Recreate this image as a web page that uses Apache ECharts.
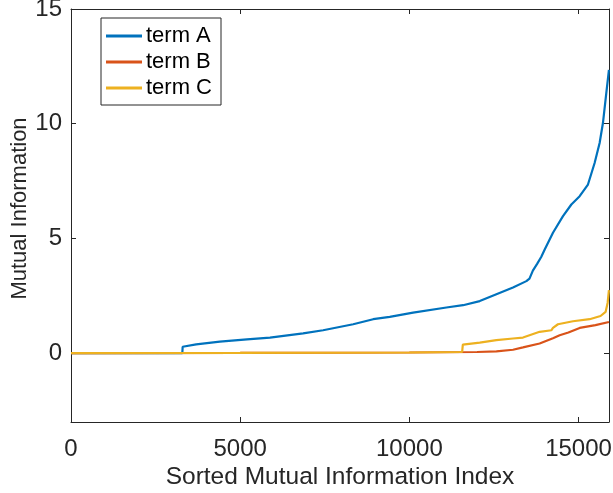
<!DOCTYPE html>
<html>
<head>
<meta charset="utf-8">
<script src="https://cdn.jsdelivr.net/npm/echarts@6/dist/echarts.min.js"></script>
<style>
  html, body { margin: 0; padding: 0; background: #fff; }
  #main { width: 613px; height: 493px; }
</style>
</head>
<body>
<div id="main"></div>
<script>
// term A
var aIdx = [0, 3290, 3300, 3700, 4400, 5200, 5880, 6860, 7450, 8340, 8930, 9420, 10110, 11095, 11587, 12080, 12572, 13063, 13458, 13550, 13650, 13780, 13900, 14000, 14244, 14540, 14787, 15033, 15278, 15475, 15623, 15721, 15820, 15898];
var aVal = [0, 0, 0.28, 0.38, 0.5, 0.6, 0.68, 0.86, 1.0, 1.26, 1.48, 1.58, 1.77, 1.99, 2.09, 2.27, 2.57, 2.86, 3.14, 3.25, 3.6, 3.9, 4.2, 4.52, 5.25, 5.97, 6.48, 6.84, 7.35, 8.29, 9.16, 10.03, 11.33, 12.35];
// term B
var bIdx = [0, 5000, 10000, 12000, 12572, 13063, 13358, 13850, 14244, 14442, 14700, 15033, 15500, 15898];
var bVal = [0, 0.01, 0.03, 0.05, 0.08, 0.15, 0.25, 0.42, 0.65, 0.78, 0.9, 1.1, 1.22, 1.36];
// term C
var cIdx = [0, 5000, 10000, 11560, 11580, 12080, 12572, 13063, 13358, 13850, 14200, 14244, 14392, 14835, 15328, 15650, 15800, 15860, 15898];
var cVal = [0, 0.01, 0.03, 0.05, 0.37, 0.46, 0.57, 0.64, 0.68, 0.93, 1.0, 1.1, 1.26, 1.39, 1.48, 1.62, 1.8, 2.2, 2.75];

var names = ["term A", "term B", "term C"];
var colors = ["#0072BD", "#D95319", "#EDB120"];
var xTicks = [0, 5000, 10000, 15000];
var yTicks = [0, 5, 10, 15];

function pairs(idx, val) {
  return idx.map(function (x, i) { return [x, val[i]]; });
}

var chart = echarts.init(document.getElementById("main"));
var textColor = "#262626";
var axisLine = { show: true, onZero: false, lineStyle: { color: textColor, width: 1 } };

var option = {
  animation: false,
  grid: { left: 71, right: 4, top: 9, bottom: 71, outerBoundsMode: "none" },
  legend: {
    data: names,
    orient: "vertical",
    left: 101,
    top: 18,
    icon: "rect",
    itemWidth: 36,
    itemHeight: 3,
    itemGap: 4,
    padding: [7, 9, 6, 5],
    borderColor: textColor,
    borderWidth: 1,
    backgroundColor: "#fff",
    textStyle: { fontFamily: "Liberation Sans", fontSize: 22, color: "#000", lineHeight: 22, padding: [0, 0, 0, -1] }
  },
  xAxis: [
    {
      type: "value",
      min: 0,
      max: 15900,
      name: "Sorted Mutual Information Index",
      nameLocation: "middle",
      nameGap: 43,
      nameMoveOverlap: false,
      nameTextStyle: { fontFamily: "Liberation Sans", fontSize: 24.5, color: textColor },
      axisLine: axisLine,
      axisTick: { show: true, inside: true, length: 5, customValues: xTicks, lineStyle: { color: textColor } },
      axisLabel: {
        customValues: xTicks, margin: 15, fontFamily: "Liberation Sans", fontSize: 24, color: textColor,
        formatter: function (v) { return String(v); }
      },
      splitLine: { show: false }
    },
    {
      type: "value",
      position: "top",
      min: 0,
      max: 15900,
      axisLine: axisLine,
      axisTick: { show: true, inside: true, length: 5, customValues: xTicks, lineStyle: { color: textColor } },
      axisLabel: { show: false },
      splitLine: { show: false }
    }
  ],
  yAxis: [
    {
      type: "value",
      min: -3,
      max: 15,
      name: "Mutual Information",
      nameLocation: "middle",
      nameGap: 40,
      nameMoveOverlap: false,
      nameTextStyle: { fontFamily: "Liberation Sans", fontSize: 22, color: textColor, padding: [0, 0, 0, 14] },
      axisLine: axisLine,
      axisTick: { show: true, inside: true, length: 5, customValues: yTicks, lineStyle: { color: textColor } },
      axisLabel: { customValues: yTicks, margin: 9, fontFamily: "Liberation Sans", fontSize: 24, color: textColor },
      splitLine: { show: false }
    },
    {
      type: "value",
      position: "right",
      min: -3,
      max: 15,
      axisLine: axisLine,
      axisTick: { show: true, inside: true, length: 5, customValues: yTicks, lineStyle: { color: textColor } },
      axisLabel: { show: false },
      splitLine: { show: false }
    }
  ],
  series: [
    { name: names[0], type: "line", data: pairs(aIdx, aVal), showSymbol: false, color: colors[0], lineStyle: { width: 2.2 } },
    { name: names[1], type: "line", data: pairs(bIdx, bVal), showSymbol: false, color: colors[1], lineStyle: { width: 2.2 } },
    { name: names[2], type: "line", data: pairs(cIdx, cVal), showSymbol: false, color: colors[2], lineStyle: { width: 2.2 } }
  ]
};
chart.setOption(option);
</script>
</body>
</html>
